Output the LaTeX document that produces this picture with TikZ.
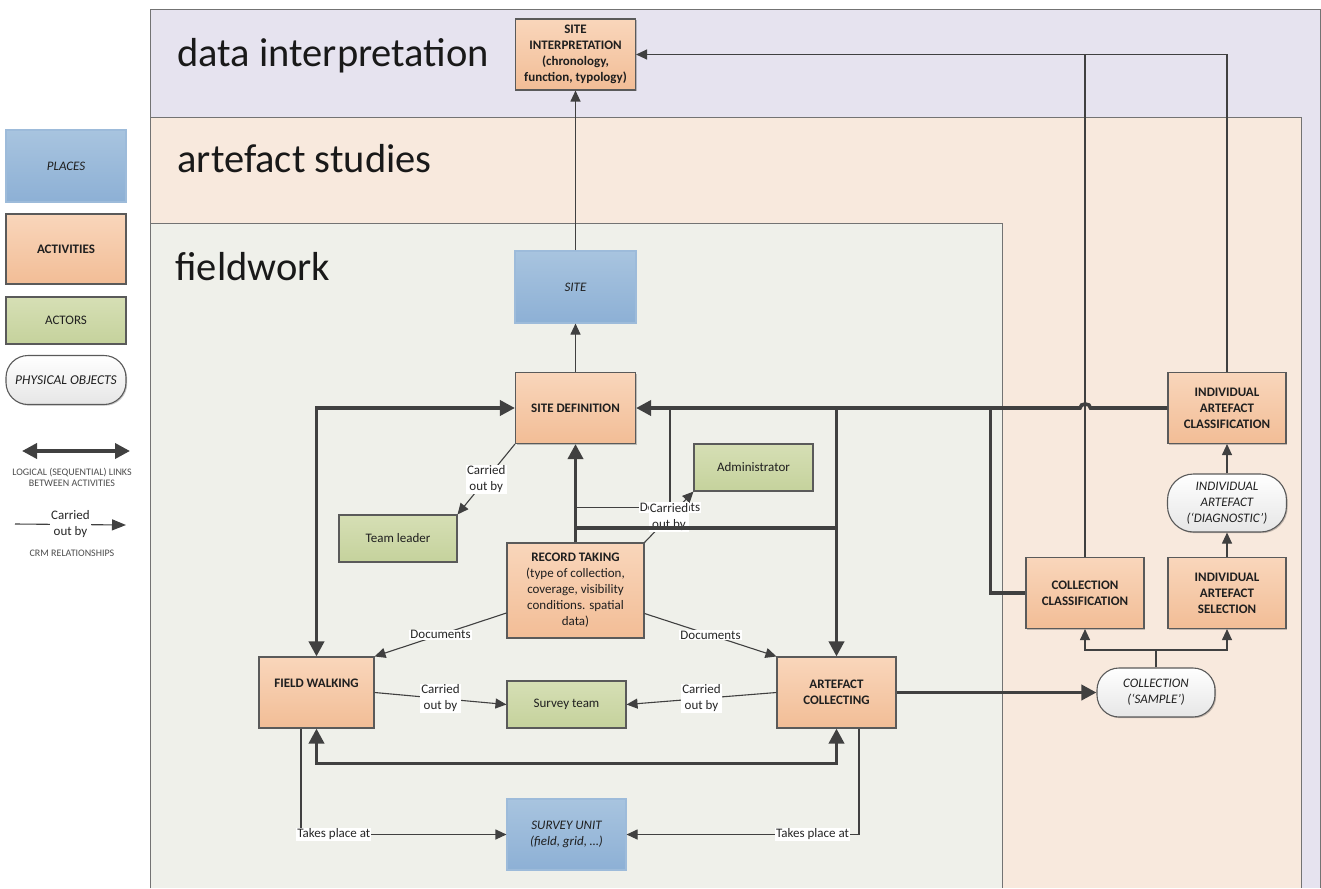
\documentclass[tikz,border=0pt]{standalone}
\usepackage{fontspec}
\setmainfont{Carlito}
\usetikzlibrary{arrows.meta,shadows}
\newcommand\myfs[2]{\fontsize{#1}{#2}\selectfont}
\definecolor{bgdi}{HTML}{E6E3EF}
\definecolor{bgas}{HTML}{F8E9DD}
\definecolor{bgfw}{HTML}{EFF0EA}
\definecolor{acttop}{HTML}{F9D6BB}
\definecolor{actbot}{HTML}{F2BD96}
\definecolor{pltop}{HTML}{A8C4DF}
\definecolor{plbot}{HTML}{8DB0D5}
\definecolor{pledge}{HTML}{9DBBDA}
\definecolor{artop}{HTML}{D6DFB5}
\definecolor{arbot}{HTML}{C5D29C}
\definecolor{objtop}{HTML}{FFFFFF}
\definecolor{objbot}{HTML}{E6E6E6}
\definecolor{edge}{HTML}{5A5A5A}
\definecolor{ln}{HTML}{404040}
\tikzset{
  bigtip/.tip={Triangle[length=15pt,width=15pt]},
  smalltip/.tip={Triangle[length=11pt,width=10pt]},
  legtip/.tip={Triangle[length=14pt,width=11pt]},
  box/.style={line width=1.1pt, inner sep=2pt, align=center, text=black!88,
    font=\myfs{13}{16},
    drop shadow={shadow xshift=1.2pt,shadow yshift=-1.2pt,opacity=0.22,fill=black}},
  activity/.style={box, draw=edge, top color=acttop, bottom color=actbot, font=\bfseries\myfs{13}{16}},
  place/.style={box, draw=pledge, top color=pltop, bottom color=plbot, font=\itshape\myfs{13}{16}},
  actor/.style={box, draw=edge, top color=artop, bottom color=arbot},
  object/.style={box, draw=edge, rounded corners=22pt, top color=objtop, bottom color=objbot, font=\itshape\myfs{13}{16}},
  sz/.style 2 args={minimum width=#1, minimum height=#2},
  thickln/.style={draw=ln, line width=3.6pt},
  thinln/.style={draw=ln, line width=1.1pt},
  lbl/.style={fill=white, inner sep=1pt, align=center, text=black!85, font=\myfs{13}{16}},
  ttl/.style={anchor=base west, text=black!90, font=\myfs{40.5}{42}},
  region/.style={draw=edge!85, line width=1pt},
  small/.style={align=center, text=black!70, font=\myfs{10}{11.5}},
}
\begin{document}
\begin{tikzpicture}[x=1pt,y=-1pt]
\useasboundingbox (0,0) rectangle (1321,888);
% regions
\fill[bgdi] (150,10) rectangle (1320,888);
\draw[region] (150,888) -- (150,10) -- (1320,10) -- (1320,888);
\fill[bgas] (150,118) rectangle (1301,888);
\draw[region] (150,888) -- (150,118) -- (1301,118) -- (1301,888);
\fill[bgfw] (150,223) rectangle (1002,888);
\draw[region] (150,888) -- (150,223) -- (1002,223) -- (1002,888);
\node[ttl] (tdi) at (174,66.5) {data interpretation};
\node[ttl] (tas) at (174,172) {artefact studies};
\node[ttl] (tfw) at (172,280) {fieldwork};

% legend
\node[place, sz={120pt}{72pt}] (lpl) at (66,166) {PLACES};
\node[activity, sz={120pt}{70pt}] (lac) at (66,249) {ACTIVITIES};
\node[actor, sz={120pt}{47pt}] (lar) at (66,320.5) {ACTORS};
\node[object, sz={120pt}{49pt}, font=\itshape\myfs{13.5}{16}] (lob) at (66,380) {PHYSICAL OBJECTS};
\coordinate (la1) at (22,451);
\coordinate (la2) at (130,451);
\draw[thickln, {bigtip}-{bigtip}] (la1) -- (la2);
\node[small] (llog) at (72,477.5) {LOGICAL (SEQUENTIAL) LINKS\\BETWEEN ACTIVITIES};
\coordinate (lc1) at (15,524);
\coordinate (lc2) at (126,525);
\draw[thinln, -{legtip}] (lc1) -- node[lbl, fill=white]{Carried\\out by} (lc2);
\node[small] (lcrm) at (72,553) {CRM RELATIONSHIPS};

% nodes
\node[activity, sz={120pt}{71pt}] (sitei) at (575.5,54.5) {SITE\\INTERPRETATION\\(chronology,\\function, typology)};
\node[place, sz={121pt}{72pt}] (site) at (575.5,287) {SITE};
\node[activity, sz={120pt}{71pt}] (sdef) at (575.5,408) {SITE DEFINITION};
\node[actor, sz={119pt}{47pt}] (admin) at (753.5,467.5) {Administrator};
\node[actor, sz={118pt}{47pt}] (team) at (398,538.5) {Team leader};
\node[activity, sz={137pt}{95pt}, font=\myfs{13}{16}] (rec) at (575.5,590.5)
  {\textbf{RECORD TAKING}\\(type of collection,\\coverage, visibility\\conditions. spatial\\data)};
\node[activity, sz={115pt}{71pt}, text depth=19pt] (fw) at (316.5,692.5) {FIELD WALKING};
\node[activity, sz={119pt}{71pt}] (ac) at (836.5,692.5) {ARTEFACT\\COLLECTING};
\node[actor, sz={119pt}{47pt}] (steam) at (566.5,704.5) {Survey team};
\node[place, sz={119pt}{71pt}] (sunit) at (566.5,834.5) {SURVEY UNIT\\(field, grid, \ldots)};
\node[object, sz={118pt}{49pt}] (csample) at (1156,692.5) {COLLECTION\\(‘SAMPLE’)};
\node[activity, sz={118pt}{71pt}] (cclass) at (1085,593) {COLLECTION\\CLASSIFICATION};
\node[activity, sz={118pt}{71pt}] (iasel) at (1227,593) {INDIVIDUAL\\ARTEFACT\\SELECTION};
\node[object, sz={119pt}{58pt}, rounded corners=26pt] (iadiag) at (1227,503) {INDIVIDUAL\\ARTEFACT\\(‘DIAGNOSTIC’)};
\node[activity, sz={118pt}{71pt}] (iaclass) at (1227,408) {INDIVIDUAL\\ARTEFACT\\CLASSIFICATION};

% thin connectors
\draw[thinln, -{smalltip}] (sdef.north) -- (site.south);
\draw[thinln, -{smalltip}] (site.north) -- (sitei.south);
\draw[thinln, -{smalltip}] (iaclass.north) |- (sitei.east);
\draw[thinln] (cclass.north) -- (cclass.north |- sitei.east);
\path (csample.north) ++(0,-17.5) coordinate (split);
\draw[thinln] (csample.north) -- (split);
\draw[thinln, -{smalltip}] (split) -| (cclass.south);
\draw[thinln, -{smalltip}] (split) -| (iasel.south);
\draw[thinln, -{smalltip}] (iasel.north) -- (iadiag.south);
\draw[thinln, -{smalltip}] (iadiag.north) -- (iaclass.south);
\draw[thinln, -{smalltip}] (sdef.south west) -- node[lbl]{Carried\\out by} (team.north east);
\draw[thinln, -{smalltip}] ([yshift=-22.5pt]rec.west) -- node[lbl]{Documents} (fw.north east);
\draw[thinln, -{smalltip}] ([yshift=-23pt]rec.east) -- node[lbl]{Documents} (ac.north west);
\draw[thinln, -{smalltip}] (fw.east) -- node[lbl]{Carried\\out by} (steam.west);
\draw[thinln, -{smalltip}] (ac.west) -- node[lbl]{Carried\\out by} (steam.east);
\draw[thinln, -{smalltip}] ([xshift=-15.5pt]fw.south) |- node[lbl, pos=0.58]{Takes place at} (sunit.west);
\draw[thinln, -{smalltip}] ([xshift=22.5pt]ac.south) |- node[lbl, pos=0.6]{Takes place at} (sunit.east);
\coordinate (dtop) at (670,408);
\coordinate (dleft) at (576,507.5);
\draw[thinln] (dtop) |- node[lbl]{Documents} (dleft);
\draw[thinln, -{smalltip}] (rec.north east) -- node[lbl]{Carried\\out by} (admin.south west);

% thick connectors
\draw[thickln, {bigtip}-{bigtip}] (fw.north) |- (sdef.west);
\draw[thickln, {bigtip}-{bigtip}] (fw.south) -- ++(0,35) -| (ac.south);
\draw[thickln, -{bigtip}] (rec.north) -- (sdef.south);
\coordinate (hj) at (700,528);
\draw[thickln] (rec.north |- hj) -- (ac.north |- hj);
\coordinate (jr) at (1090.5,408);
\coordinate (jl) at (1080,408);
\draw[thickln, -{bigtip}] (iaclass.west) -- (jr) to[out=90,in=90,looseness=1.3] (jl) -- (sdef.east);
\draw[thickln, -{bigtip}] (ac.north |- sdef.east) -- (ac.north);
\coordinate (vj) at (990.5,408);
\draw[thickln] (vj) |- (cclass.west);
\draw[thickln, -{bigtip}] (ac.east) -- (csample.west);
\end{tikzpicture}
\end{document}
